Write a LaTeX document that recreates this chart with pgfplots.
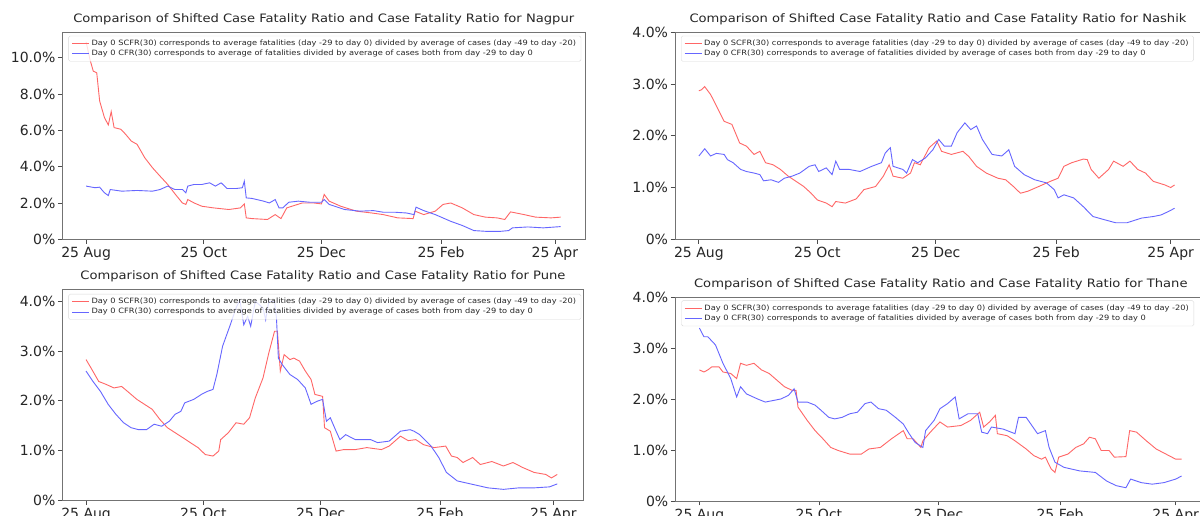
\documentclass[border=0pt]{standalone}
\usepackage{pgfplots}
\pgfplotsset{compat=1.18}
\usepackage{fontspec}
\setmainfont{DejaVu Sans}
\newfontfamily\widefont[FakeStretch=1.13]{DejaVu Sans}
\definecolor{sred}{RGB}{255,102,102}
\definecolor{sblue}{RGB}{102,102,255}
\pgfplotsset{
  cfr/.style={
    scale only axis,
    xmin=-12.3, xmax=258.6, ymin=0,
    xtick={0,61,122,184,243},
    xticklabels={25 Aug,25 Oct,25 Dec,25 Feb,25 Apr},
    tick align=outside, tick pos=left,
    major tick length=4.5pt,
    axis line style={black!55, line width=0.8pt},
    tick style={black!70, line width=0.8pt},
    ticklabel style={font=\fontsize{14}{16}\selectfont, text=black!85},
    yticklabel style={xshift=1pt},
    title style={at={(0.5,1)}, anchor=base, yshift=3.5pt, font=\widefont\fontsize{11.6}{13}\selectfont, text=black!85},
    legend style={at={(0,1)}, anchor=north west, xshift=6pt, yshift=-3.5pt,
      font=\widefont\fontsize{7.3}{8.5}\selectfont, text=black!85,
      fill=white, fill opacity=0.8, text opacity=1,
      draw=black!15, rounded corners=1.5pt, row sep=-0.8pt},
    legend cell align=left,
    every axis plot/.append style={line width=0.9pt},
  },
  redline/.style={sred},
  blueline/.style={sblue},
}
\newcommand{\legA}{Day 0 SCFR(30) corresponds to average fatalities (day -29 to day 0) divided by average of cases (day -49 to day -20)}
\newcommand{\legB}{Day 0 CFR(30) corresponds to average of fatalities divided by average of cases both from day -29 to day 0}
\begin{document}
\begin{tikzpicture}
\useasboundingbox (0,0) rectangle (1200pt,516pt);
\fill[white] (0,0) rectangle (1200pt,516pt);

% ---------------- Nagpur ----------------
\begin{axis}[cfr, at={(62.4pt,276.7pt)}, anchor=south west, width=522.6pt, height=207pt,
  ymax=11.4, ytick={0,2,4,6,8,10}, yticklabels={0\%,2.0\%,4.0\%,6.0\%,8.0\%,10.0\%},
  title={Comparison of Shifted Case Fatality Ratio and Case Fatality Ratio for Nagpur}]
\addplot[redline] coordinates {
(0,10.87)(2,9.9)(3.7,9.26)(5.5,9.17)(7,7.62)(9.5,6.7)(11.5,6.3)(13,7.03)(14.5,6.15)(18,6.06)(20.5,5.78)(23.4,5.41)(26.4,5.23)(30.4,4.49)(34.4,3.94)(38.3,3.48)(42.3,3.02)(46.3,2.47)(49.9,2.0)(51.7,1.92)(52.7,2.19)(56,2.0)(60,1.82)(66,1.73)(74,1.64)(80,1.73)(82,1.95)(83,1.18)(86,1.14)(94,1.09)(98,1.36)(101,1.14)(104,1.73)(112,2.0)(118,2.0)(122,1.95)(123.4,2.47)(126,2.1)(132,1.82)(140,1.55)(148,1.45)(154,1.36)(161.5,1.18)(169.5,1.14)(170.5,1.55)(175,1.36)(181,1.55)(185,1.92)(189,2.0)(195,1.73)(201,1.36)(207,1.22)(213,1.18)(217,1.09)(220,1.51)(227,1.36)(233,1.22)(241,1.18)(246,1.22)};
\addlegendentry{\legA}
\addplot[blueline] coordinates {
(0,2.93)(4.6,2.84)(7,2.87)(9.5,2.56)(11.5,2.41)(12.5,2.74)(18.5,2.65)(26.4,2.69)(34.4,2.65)(38.3,2.74)(42.3,2.93)(46,2.74)(50,2.74)(51.7,2.56)(52.7,2.93)(56,3.02)(60,3.02)(64,3.11)(67,2.93)(70,3.11)(73,2.8)(78,2.8)(81,2.84)(82,3.2)(83,2.28)(86,2.25)(92,2.1)(95,2.0)(98,2.19)(100,1.73)(102,1.73)(105,2.04)(110,2.1)(116,2.04)(122,2.04)(123.4,2.19)(126,1.92)(134,1.64)(142,1.55)(149,1.58)(154,1.49)(160,1.49)(166,1.45)(170,1.36)(171,1.77)(175,1.58)(181,1.36)(189,0.99)(195,0.76)(201,0.48)(207,0.44)(215,0.44)(219,0.48)(221,0.63)(229,0.68)(237,0.63)(246,0.7)};
\addlegendentry{\legB}
\end{axis}

% ---------------- Nashik ----------------
\begin{axis}[cfr, at={(675pt,276.7pt)}, anchor=south west, width=526pt, height=207pt,
  ymax=4.0, ytick={0,1,2,3,4}, yticklabels={0\%,1.0\%,2.0\%,3.0\%,4.0\%},
  title={Comparison of Shifted Case Fatality Ratio and Case Fatality Ratio for Nashik}]
\addplot[redline] coordinates {
(0,2.87)(1.4,2.89)(3,2.95)(6,2.8)(9,2.58)(13,2.28)(17,2.22)(21,1.86)(24.5,1.8)(28.4,1.64)(31.4,1.7)(34.3,1.48)(38.2,1.44)(42,1.35)(46,1.22)(50,1.12)(54,1.02)(57.8,0.89)(61,0.76)(65.6,0.7)(68.6,0.63)(70.5,0.73)(75.4,0.7)(81,0.78)(85,0.96)(91,1.02)(95,1.22)(98,1.44)(100,1.22)(105,1.18)(109,1.28)(111,1.48)(114,1.44)(118.6,1.77)(122.5,1.9)(125,1.7)(130,1.64)(136,1.7)(139,1.6)(143,1.41)(148,1.28)(154,1.18)(158,1.15)(162,1.02)(165.6,0.89)(169.5,0.93)(175,1.02)(181,1.12)(185,1.18)(188,1.41)(192,1.48)(198,1.55)(200,1.54)(202,1.35)(206,1.18)(211,1.35)(213.6,1.51)(218.5,1.41)(222,1.51)(226,1.35)(230,1.28)(234,1.12)(240,1.05)(243,1.0)(245,1.05)};
\addlegendentry{\legA}
\addplot[blueline] coordinates {
(0,1.61)(3,1.75)(6,1.61)(9,1.66)(13,1.64)(14.7,1.54)(17.6,1.48)(21.5,1.35)(24.5,1.31)(28.4,1.28)(31.4,1.25)(33.3,1.13)(37.2,1.15)(41,1.1)(44,1.18)(48,1.22)(52,1.28)(56.8,1.41)(59.8,1.44)(61.7,1.31)(65.6,1.38)(68.6,1.25)(70.5,1.51)(72.5,1.35)(77.4,1.35)(83,1.31)(89,1.41)(94,1.48)(96,1.67)(98.6,1.77)(100,1.41)(105,1.35)(107,1.28)(110,1.54)(112.7,1.48)(116.6,1.57)(120.5,1.73)(123.5,1.93)(126.4,1.8)(130,1.8)(133,2.06)(137,2.25)(140,2.12)(143,2.19)(146,1.93)(151,1.64)(156,1.61)(159.6,1.73)(162.6,1.41)(167.5,1.25)(173,1.15)(179,1.09)(183,0.96)(185,0.8)(188,0.86)(193,0.8)(198,0.63)(203,0.44)(208.7,0.38)(214.6,0.32)(220.5,0.32)(228,0.41)(234,0.44)(238,0.47)(242,0.54)(245,0.6)};
\addlegendentry{\legB}
\end{axis}

% ---------------- Pune ----------------
\begin{axis}[cfr, at={(62.4pt,15.7pt)}, anchor=south west, width=521pt, height=211.3pt,
  ymax=4.25, ytick={0,1,2,3,4}, yticklabels={0\%,1.0\%,2.0\%,3.0\%,4.0\%},
  title={Comparison of Shifted Case Fatality Ratio and Case Fatality Ratio for Pune},
  legend style={yshift=-1.5pt}]
\addplot[redline] coordinates {
(0,2.83)(2.6,2.66)(6.6,2.39)(10.5,2.33)(14.5,2.26)(18.5,2.29)(22.5,2.16)(26.4,2.03)(30.4,1.93)(34.4,1.83)(38.3,1.63)(42.3,1.46)(46.3,1.36)(50.3,1.26)(54.2,1.16)(58.2,1.06)(62,0.92)(66,0.89)(69,0.99)(70,1.22)(74,1.36)(78,1.56)(82,1.53)(85,1.66)(88,2.06)(92,2.46)(95,2.96)(98,3.4)(99.5,3.4)(101,2.6)(103,2.93)(106,2.83)(108,2.86)(111,2.8)(114,2.6)(117,2.43)(119,2.13)(123,2.09)(124,1.46)(127,1.39)(130,0.99)(134,1.02)(140,1.02)(146,1.06)(153.6,1.02)(157.6,1.09)(163.5,1.29)(167.5,1.2)(171.5,1.22)(175.4,1.12)(181,1.06)(187,1.09)(190,0.89)(193,0.86)(196,0.76)(201,0.86)(205,0.72)(211,0.78)(217,0.69)(222,0.76)(227,0.66)(233,0.56)(239,0.52)(242,0.45)(245,0.52)};
\addlegendentry{\legA}
\addplot[blueline] coordinates {
(0,2.6)(3.6,2.39)(7.5,2.19)(11.5,1.93)(15.5,1.73)(19.5,1.56)(23.4,1.46)(27.4,1.42)(31.4,1.42)(35.4,1.53)(39.3,1.49)(43.3,1.59)(46.3,1.73)(49.3,1.79)(51.3,1.96)(56,2.03)(60,2.13)(63,2.19)(66,2.23)(68,2.53)(71,3.1)(75,3.53)(78,3.87)(80,4.03)(82,3.53)(84,3.7)(85.6,3.5)(88,4.0)(92,3.87)(93.4,3.63)(95,4.0)(98,4.0)(99,3.67)(100,2.86)(102,2.73)(106,2.53)(110,2.43)(114,2.26)(117,1.93)(120,1.99)(123,2.03)(125,1.59)(127,1.66)(130,1.39)(132,1.22)(135,1.32)(140,1.22)(148,1.22)(151.6,1.16)(157.6,1.19)(163.5,1.39)(168.5,1.42)(170.5,1.39)(173.5,1.32)(179.4,1.09)(183.4,0.86)(187.4,0.56)(193,0.39)(201,0.32)(209,0.25)(217,0.22)(225,0.25)(233,0.25)(241,0.27)(245,0.33)};
\addlegendentry{\legB}
\end{axis}

% ---------------- Thane ----------------
\begin{axis}[cfr, at={(675.3pt,15pt)}, anchor=south west, width=531pt, height=204pt,
  ymax=4.0, ytick={0,1,2,3,4}, yticklabels={0\%,1.0\%,2.0\%,3.0\%,4.0\%},
  title={Comparison of Shifted Case Fatality Ratio and Case Fatality Ratio for Thane}]
\addplot[redline] coordinates {
(0,2.57)(2.3,2.53)(4.3,2.57)(6.3,2.63)(10,2.63)(12,2.53)(16,2.5)(19,2.4)(21,2.7)(24,2.66)(27.8,2.7)(31.7,2.57)(35.6,2.5)(39.5,2.37)(43.4,2.24)(47.3,2.17)(49.3,2.17)(50.3,1.84)(55,1.58)(59,1.38)(63,1.22)(67,1.05)(70.8,0.99)(76.7,0.92)(82.6,0.92)(86.5,1.02)(92.3,1.05)(98,1.22)(104,1.38)(106,1.22)(109,1.22)(113,1.05)(114,1.18)(117.8,1.35)(122.7,1.55)(126.6,1.45)(133.4,1.48)(138.3,1.58)(143,1.74)(145,1.45)(148,1.55)(151,1.68)(152,1.32)(157,1.28)(161,1.18)(166.7,1.02)(170.6,0.89)(174.5,0.82)(176.5,0.86)(179.4,0.63)(181.4,0.56)(183.3,0.86)(188,0.92)(192,1.05)(196,1.12)(199,1.25)(202,1.22)(205,0.99)(209,0.99)(211.7,0.86)(217.6,0.87)(219.5,1.38)(223,1.35)(228,1.18)(233,1.02)(238,0.92)(243,0.82)(246,0.82)};
\addlegendentry{\legA}
\addplot[blueline] coordinates {
(0,3.39)(2.3,3.22)(4.3,3.22)(8.2,3.06)(12,2.7)(16,2.4)(19,2.04)(21,2.24)(24,2.1)(29.7,2.0)(33.6,1.94)(37.6,1.97)(41.5,2.0)(45.4,2.07)(48.3,2.2)(50.3,1.94)(55,1.94)(59,1.88)(62,1.78)(66,1.64)(69,1.61)(72.8,1.64)(76.7,1.71)(80.6,1.74)(84.5,1.91)(87.5,1.94)(91.4,1.81)(95.3,1.78)(100,1.64)(104,1.51)(107,1.32)(110,1.15)(114,1.05)(115.4,1.38)(119.7,1.58)(122.7,1.81)(126.6,1.91)(130.5,2.04)(132.5,1.61)(137,1.71)(142,1.71)(144,1.35)(147,1.32)(149,1.45)(155,1.41)(161,1.32)(162.8,1.64)(166.7,1.64)(172.5,1.32)(176.5,1.38)(178.4,1.05)(181.4,0.76)(186,0.66)(194,0.59)(202,0.56)(207.8,0.39)(212.7,0.3)(217.6,0.26)(220,0.43)(225.4,0.36)(231,0.33)(237,0.36)(243,0.43)(246,0.49)};
\addlegendentry{\legB}
\end{axis}
\end{tikzpicture}
\end{document}
